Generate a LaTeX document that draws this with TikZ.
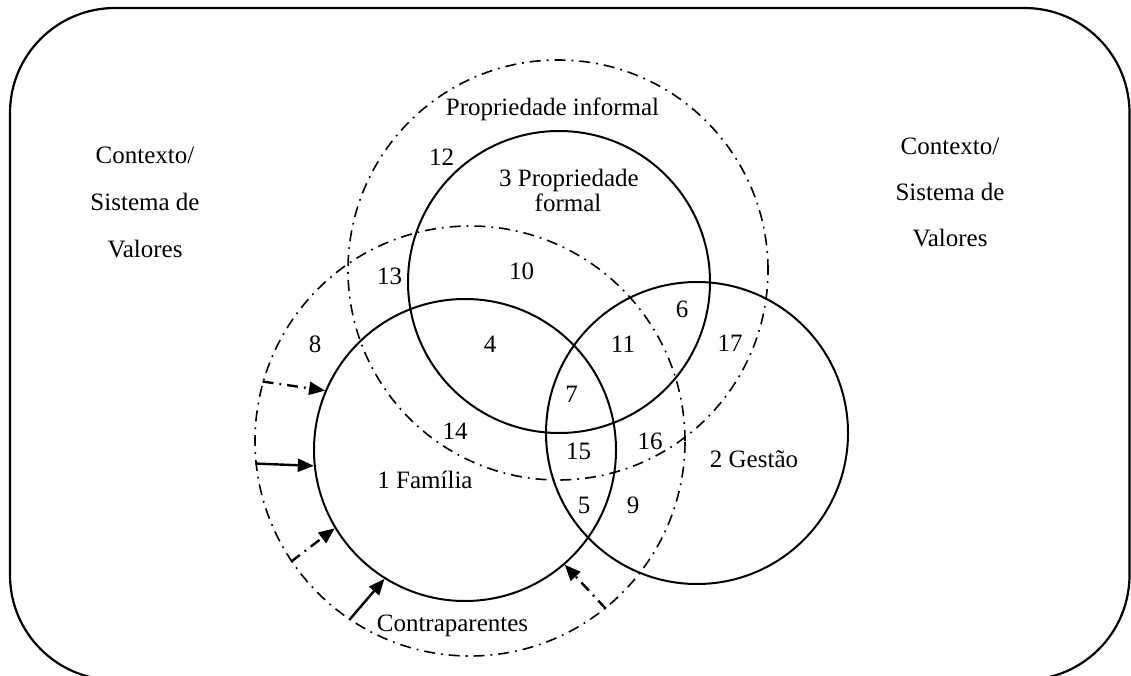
\documentclass[tikz,border=0pt]{standalone}
\usepackage{fontspec}
\setmainfont{Liberation Serif}
\usetikzlibrary{arrows.meta}
\begin{document}
\begin{tikzpicture}[x=1pt,y=-1pt,
  ring/.style={circle,draw,line width=2pt,inner sep=0pt,minimum size=302pt},
  halo/.style={circle,draw,line width=1.6pt,inner sep=0pt,
    dash pattern=on 11pt off 6pt on 1.8pt off 6pt},
  lbl/.style={font=\fontsize{25}{26}\selectfont,inner sep=0pt},
  num/.style={lbl,anchor=center},
  txt/.style={lbl,anchor=base},
  push/.style={line width=2.4pt,-{Triangle[length=16pt,width=13pt]}},
  pushdd/.style={push,dash pattern=on 11pt off 6pt on 1.8pt off 6pt},
]
\useasboundingbox (0,0) rectangle (1131,676);

% surrounding context frame
\begin{scope}
  \clip (0,0) rectangle (1131,676);
  \draw[line width=2.2pt,rounded corners=105pt] (10,8) rectangle (1129.5,680);
\end{scope}

% informal ownership and the wider family (dash-dot)
\node[halo,minimum size=420pt] (inf) at (558,270) {};
\node[halo,minimum size=430pt] (kin) at (470,441) {};

% the three systems
\node[ring] (fam) at (465,450) {};
\node[ring] (prop) at (559,282) {};
\node[ring] (gest) at (697,433) {};

% context labels
\node[txt] (cl1) at (145,164) {Contexto/};
\node[txt] (cl2) at (145,210.5) {Sistema de};
\node[txt] (cl3) at (145,257) {Valores};
\node[txt] (cr1) at (950,155) {Contexto/};
\node[txt] (cr2) at (950,201) {Sistema de};
\node[txt] (cr3) at (950,247) {Valores};

% circle labels
\node[txt] (linf) at (552.5,115.5) {Propriedade informal};
\node[txt] (lp1) at (569,186.5) {3 Propriedade};
\node[txt] (lp2) at (568,211.5) {formal};
\node[txt] (lfam) at (425,488) {1 Família};
\node[txt] (lgest) at (754,467) {2 Gestão};
\node[txt] (lkin) at (452.5,631.5) {Contraparentes};

% region numbers
\node[num] (n4) at (490,344) {4};
\node[num] (n5) at (584,505) {5};
\node[num] (n6) at (682,309) {6};
\node[num] (n7) at (571.5,394) {7};
\node[num] (n8) at (315,344) {8};
\node[num] (n9) at (633,505) {9};
\node[num] (n10) at (521.5,271) {10};
\node[num] (n11) at (623,344) {11};
\node[num] (n12) at (441.5,157.5) {12};
\node[num] (n13) at (389.5,276) {13};
\node[num] (n14) at (455,431) {14};
\node[num] (n15) at (578.5,451) {15};
\node[num] (n16) at (650,441) {16};
\node[num] (n17) at (730,343.5) {17};

% influences of the wider family on the family
\draw[pushdd] (kin.164.2) -- (fam.157.8);
\draw[push]   (kin.186.6) -- (fam.186);
\draw[pushdd] (kin.214.1) -- (fam.211.6);
\draw[push]   (kin.236.2) -- (fam.238);
\draw[pushdd] (kin.309.4) -- (fam.311.6);
\end{tikzpicture}
\end{document}
